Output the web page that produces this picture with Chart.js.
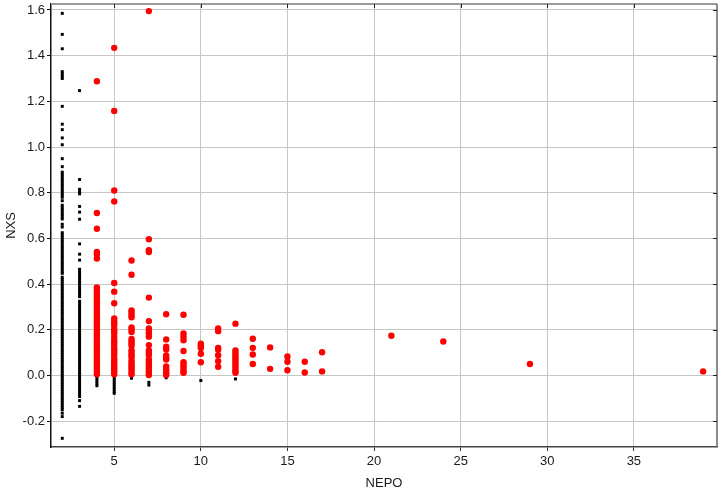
<!DOCTYPE html>
<html>
<head>
<meta charset="utf-8">
<script src="https://cdn.jsdelivr.net/npm/chart.js@4/dist/chart.umd.min.js"></script>
<style>
html,body{margin:0;padding:0;background:#fff;}
#c{display:block;}
</style>
</head>
<body>
<canvas id="c" width="723" height="493"></canvas>
<script>
// ---- data ----
const xTickValues = [5, 10, 15, 20, 25, 30, 35];
const yTickValues = [-0.2, 0.0, 0.2, 0.4, 0.6, 0.8, 1.0, 1.2, 1.4, 1.6];

const blackNepo = [2, 3, 4, 5, 6, 7, 8, 10, 12];
const blackNxs = [
  [1.585, 1.493, 1.43, 1.33, 1.32, 1.31, 1.30, 1.178, 1.10, 1.076, 1.04, 1.01, 0.949, 0.914,
   0.89, 0.88, 0.87, 0.86, 0.85, 0.84, 0.83, 0.82, 0.81, 0.80, 0.79, 0.78, 0.765,
   0.745, 0.735, 0.725, 0.715, 0.705, 0.695, 0.685, 0.662, 0.65,
   0.625, 0.615, 0.605, 0.595, 0.585, 0.575, 0.565, 0.555, 0.545, 0.535, 0.525, 0.515, 0.505,
   0.495, 0.485, 0.475, 0.465, 0.455, 0.447,
   0.43, 0.42, 0.41, 0.40, 0.39, 0.38, 0.37, 0.36, 0.35, 0.34, 0.33, 0.32, 0.31, 0.30,
   0.29, 0.28, 0.27, 0.26, 0.25, 0.24, 0.23, 0.22, 0.21, 0.20, 0.19, 0.18, 0.17, 0.16,
   0.15, 0.14, 0.13, 0.12, 0.11, 0.10, 0.09, 0.08, 0.07, 0.06, 0.05, 0.04, 0.03, 0.02,
   0.01, 0.00, -0.01, -0.02, -0.03, -0.04, -0.05, -0.06, -0.07, -0.08, -0.09, -0.10,
   -0.11, -0.12, -0.13, -0.14, -0.15, -0.165, -0.18, -0.275],
  [1.247, 0.858, 0.815, 0.805, 0.795, 0.74, 0.715, 0.684, 0.576, 0.531, 0.505,
   0.465, 0.455, 0.445, 0.435, 0.425, 0.415, 0.405, 0.395, 0.385, 0.375, 0.365, 0.355, 0.345,
   0.325, 0.315, 0.305, 0.295, 0.285, 0.275, 0.265, 0.255, 0.245, 0.235, 0.225, 0.215,
   0.205, 0.195, 0.185, 0.175, 0.165, 0.155, 0.145, 0.135, 0.125, 0.115, 0.105, 0.095,
   0.085, 0.075, 0.065, 0.055, 0.045, 0.035, 0.025, 0.015, 0.005, -0.005, -0.015, -0.025,
   -0.035, -0.045, -0.055, -0.065, -0.075, -0.085, -0.092, -0.11, -0.135],
  [-0.005, -0.015, -0.025, -0.035, -0.045],
  [-0.01, -0.02, -0.03, -0.04, -0.05, -0.06, -0.07, -0.078],
  [-0.012],
  [-0.03, -0.042],
  [-0.01],
  [-0.022],
  [-0.015]
];

const redNepo = [4, 5, 6, 7, 8, 9, 10, 11, 12, 13, 14, 15, 16, 17, 21, 24, 29, 39];
const redNxs = [
  [1.288, 0.711, 0.642, 0.541, 0.531, 0.512,
   0.385, 0.375, 0.365, 0.355, 0.345, 0.335, 0.325, 0.315, 0.305, 0.295, 0.285, 0.275,
   0.265, 0.255, 0.245, 0.235, 0.225, 0.215, 0.205, 0.195, 0.185, 0.175, 0.165, 0.155,
   0.145, 0.135, 0.125, 0.115, 0.105, 0.095, 0.085, 0.075, 0.065, 0.055, 0.045, 0.035,
   0.025, 0.015, 0.005],
  [1.434, 1.158, 0.81, 0.762, 0.405, 0.367, 0.316,
   0.25, 0.24, 0.23, 0.22, 0.205, 0.195, 0.185, 0.17, 0.155, 0.145, 0.135, 0.12, 0.11,
   0.10, 0.09, 0.075, 0.065, 0.055, 0.045, 0.035, 0.025, 0.015, 0.005],
  [0.503, 0.441, 0.285, 0.275, 0.265, 0.255, 0.21, 0.20, 0.19, 0.16, 0.15, 0.14, 0.13,
   0.11, 0.10, 0.09, 0.08, 0.065, 0.055, 0.045, 0.035, 0.025, 0.015, 0.005],
  [1.595, 0.596, 0.548, 0.54, 0.341, 0.238, 0.206, 0.195, 0.185, 0.17, 0.133, 0.11, 0.10,
   0.09, 0.07, 0.06, 0.05, 0.04, 0.03, 0.02, 0.01, 0.002],
  [0.268, 0.158, 0.126, 0.114, 0.088, 0.078, 0.07, 0.04, 0.03, 0.02, 0.01, 0.002],
  [0.266, 0.184, 0.17, 0.154, 0.107, 0.058, 0.048, 0.038, 0.028, 0.018, 0.012],
  [0.139, 0.13, 0.12, 0.095, 0.058],
  [0.206, 0.194, 0.121, 0.113, 0.089, 0.063, 0.038],
  [0.227, 0.11, 0.10, 0.09, 0.08, 0.07, 0.06, 0.05, 0.04, 0.03, 0.02, 0.012],
  [0.161, 0.121, 0.092, 0.05],
  [0.123, 0.029],
  [0.083, 0.06, 0.023],
  [0.06, 0.013],
  [0.102, 0.018],
  [0.174],
  [0.149],
  [0.05],
  [0.018]
];

// ---- build points ----
function toPoints(xs, ys) {
  const pts = [];
  xs.forEach((xv, i) => ys[i].forEach(yv => pts.push({x: xv, y: yv})));
  return pts;
}

const font = {family: '"Liberation Sans", Arial, Helvetica, sans-serif', size: 13};
const textColor = '#1a1a1a';
const gridColor = '#c6c6c6';

const framePlugin = {
  id: 'frame',
  beforeDatasetsDraw(chart) {
    const {ctx, chartArea: a, scales} = chart;
    const x = scales.x, y = scales.y;
    ctx.save();
    ctx.strokeStyle = '#9a9a9a';
    ctx.lineWidth = 2;
    ctx.beginPath();
    ctx.moveTo(a.left, a.top);
    ctx.lineTo(a.right, a.top);
    ctx.stroke();
    ctx.strokeStyle = '#666';
    ctx.lineWidth = 1.5;
    ctx.beginPath();
    ctx.moveTo(a.right, a.top);
    ctx.lineTo(a.right, a.bottom);
    ctx.stroke();
    ctx.strokeStyle = '#222';
    ctx.lineWidth = 1;
    x.ticks.forEach(t => {
      const px = Math.round(x.getPixelForValue(t.value)) + 0.5;
      ctx.beginPath(); ctx.moveTo(px, a.top); ctx.lineTo(px, a.top + 4); ctx.stroke();
    });
    y.ticks.forEach(t => {
      const py = Math.round(y.getPixelForValue(t.value)) + 0.5;
      ctx.beginPath(); ctx.moveTo(a.right, py); ctx.lineTo(a.right - 4, py); ctx.stroke();
    });
    ctx.restore();
  }
};

new Chart(document.getElementById('c'), {
  type: 'scatter',
  data: {
    datasets: [
      {
        label: 'red',
        data: toPoints(redNepo, redNxs),
        backgroundColor: '#ff0000',
        borderWidth: 0,
        pointRadius: 3.2,
        pointStyle: 'circle',
        order: 0
      },
      {
        label: 'black',
        data: toPoints(blackNepo, blackNxs),
        backgroundColor: '#000000',
        borderWidth: 0,
        pointRadius: 2.1,
        pointStyle: 'rect',
        order: 1
      }
    ]
  },
  options: {
    responsive: false,
    animation: false,
    devicePixelRatio: 1,
    layout: {padding: {top: 4, right: 6, left: 0, bottom: 0}},
    plugins: {legend: {display: false}, tooltip: {enabled: false}},
    scales: {
      x: {
        type: 'linear',
        min: 1.35,
        max: 39.8,
        afterBuildTicks: s => { s.ticks = xTickValues.map(v => ({value: v})); },
        afterFit: s => { s.height = 46; s.paddingLeft = 0; s.paddingRight = 0; },
        grid: {color: gridColor, lineWidth: 1, tickLength: 4, tickColor: '#333', drawTicks: true},
        border: {color: '#444', width: 1.5},
        ticks: {font, color: textColor, padding: 3, maxRotation: 0, autoSkip: false},
        title: {display: true, text: 'NEPO', font, color: textColor, padding: {top: 0, bottom: 2}}
      },
      y: {
        type: 'linear',
        min: -0.313,
        max: 1.626,
        afterBuildTicks: s => { s.ticks = yTickValues.map(v => ({value: v})); },
        afterFit: s => { s.width = 51; s.paddingTop = 0; s.paddingBottom = 0; },
        grid: {color: gridColor, lineWidth: 1, tickLength: 4, tickColor: '#111', drawTicks: true},
        border: {color: '#111', width: 1.5},
        ticks: {font, color: textColor, padding: 2, autoSkip: false,
                callback: v => Number(v).toFixed(1)},
        title: {display: true, text: 'NXS', font, color: textColor, padding: {top: 4, bottom: 0}}
      }
    }
  },
  plugins: [framePlugin]
});
</script>
</body>
</html>
